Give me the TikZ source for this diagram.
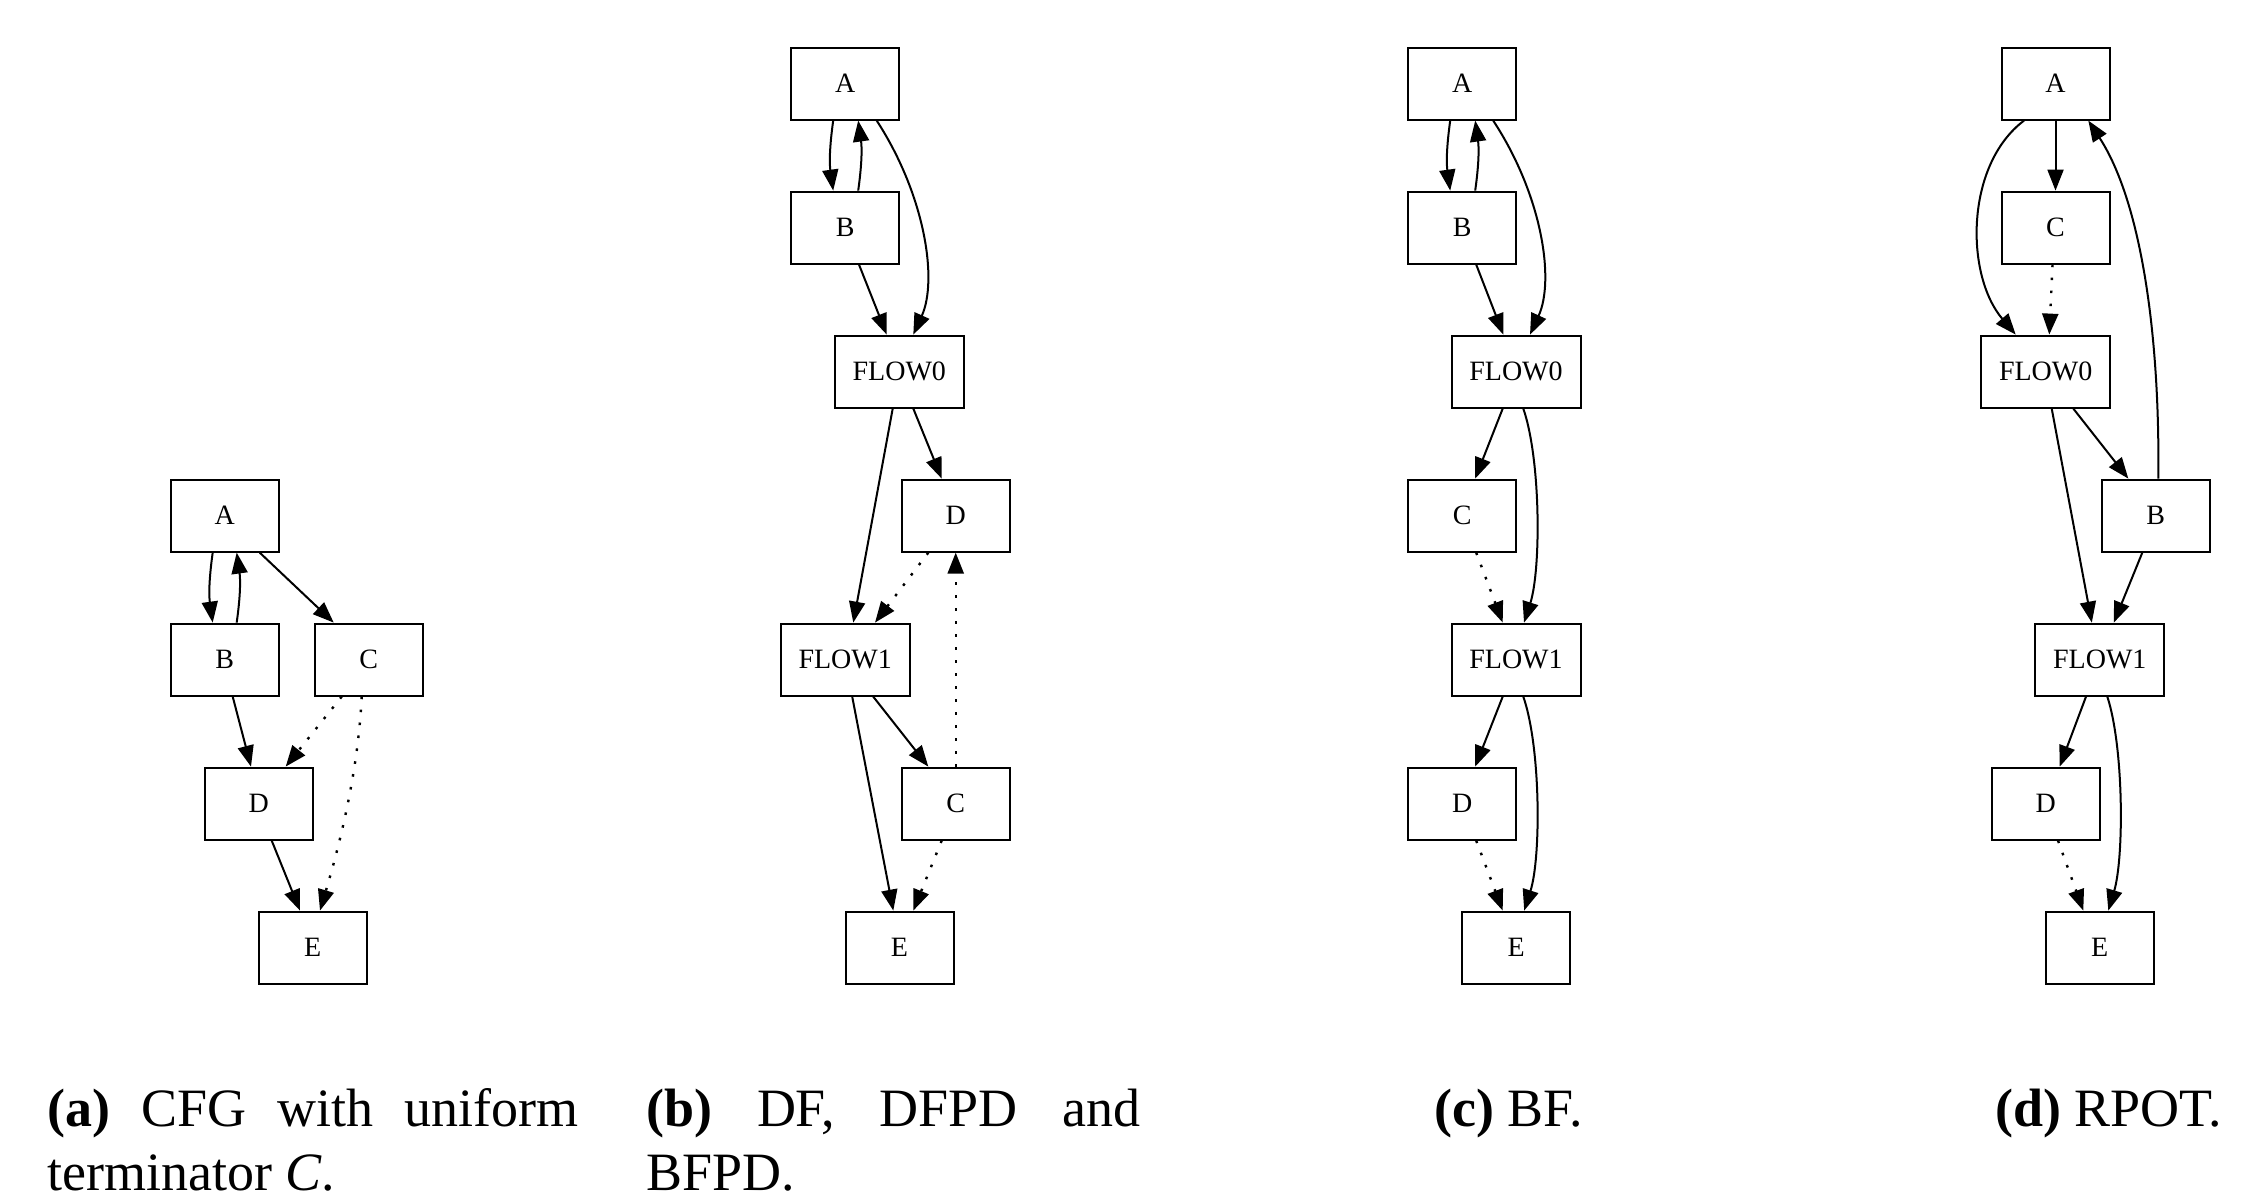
\documentclass[tikz,border=0pt]{standalone}
\usepackage{fontspec}
\setmainfont{Liberation Serif}
\usetikzlibrary{arrows.meta,calc}
\tikzset{
  box/.style={draw, line width=1pt, minimum width=54pt, minimum height=36pt, inner sep=0pt, font=\fontsize{14}{16}\selectfont},
  wbox/.style={box, minimum width=64.5pt},
  edge/.style={line width=1pt, -{Triangle[length=10.5pt,width=8pt]}},
  dedge/.style={edge, line width=1.2pt, dash pattern=on 1.3pt off 5.2pt},
  captext/.style={anchor=base west, inner sep=0pt, text depth=0pt, font=\fontsize{27}{32.5}\selectfont}
}
\begin{document}
\begin{tikzpicture}[x=0.5pt,y=-0.5pt]
\useasboundingbox (0,0) rectangle (2259,1194);
% ---------- panel (a)
\node[box] (aA) at (224.7,515.6) {A};
\node[box] (aB) at (224.7,659.6) {B};
\node[box] (aC) at (368.7,659.6) {C};
\node[box] (aD) at (258.7,803.6) {D};
\node[box] (aE) at (312.7,947.6) {E};
\draw[edge] ($(aA.south)+(-12,0)$) to[bend right=8] ($(aB.north)+(-12,0)$);
\draw[edge] ($(aB.north)+(12,0)$) to[bend right=8] ($(aA.south)+(12,0)$);
\draw[edge] ($(aA.south)+(35,0)$) -- ($(aC.north)+(-35,0)$);
\draw[edge] ($(aB.south)+(8,0)$) -- ($(aD.north)+(-7.7,0)$);
\draw[dedge] ($(aC.south)+(-27,0)$) -- ($(aD.north)+(27,0)$);
\draw[dedge] ($(aC.south)+(-7,0)$) .. controls (358,775) and (338,850) .. ($(aE.north)+(7.3,0)$);
\draw[edge] ($(aD.south)+(13,0)$) -- ($(aE.north)+(-12.7,0)$);
% ---------- panel (b)
\node[box] (bA) at (845.2,83.6) {A};
\node[box] (bB) at (845.2,227.6) {B};
\node[wbox] (bF0) at (899.3,371.6) {FLOW0};
\node[box] (bD) at (955.7,515.6) {D};
\node[wbox] (bF1) at (845.2,659.6) {FLOW1};
\node[box] (bC) at (955.7,803.6) {C};
\node[box] (bE) at (899.5,947.6) {E};
\draw[edge] ($(bA.south)+(-12,0)$) to[bend right=8] ($(bB.north)+(-12,0)$);
\draw[edge] ($(bB.north)+(13,0)$) to[bend right=8] ($(bA.south)+(13,0)$);
\draw[edge] ($(bA.south)+(31.5,0)$) .. controls (925,195) and (938,280) .. ($(bF0.north)+(14,0)$);
\draw[edge] ($(bB.south)+(13.8,0)$) -- ($(bF0.north)+(-12.6,0)$);
\draw[edge] ($(bF0.south)+(14,0)$) -- ($(bD.north)+(-14,0)$);
\draw[edge] ($(bF0.south)+(-6.6,0)$) -- ($(bF1.north)+(8.1,0)$);
\draw[dedge] ($(bD.south)+(-27.4,0)$) -- ($(bF1.north)+(29.8,0)$);
\draw[dedge] (bC.north) -- (bD.south);
\draw[edge] ($(bF1.south)+(28,0)$) -- ($(bC.north)+(-27.4,0)$);
\draw[edge] ($(bF1.south)+(7,0)$) -- ($(bE.north)+(-6.2,0)$);
\draw[dedge] ($(bC.south)+(-14,0)$) -- ($(bE.north)+(13.8,0)$);
% ---------- panel (c)
\node[box] (cA) at (1462.2,83.6) {A};
\node[box] (cB) at (1462.2,227.6) {B};
\node[wbox] (cF0) at (1516,371.6) {FLOW0};
\node[box] (cC) at (1462.2,515.6) {C};
\node[wbox] (cF1) at (1516,659.6) {FLOW1};
\node[box] (cD) at (1462.2,803.6) {D};
\node[box] (cE) at (1516.2,947.6) {E};
\draw[edge] ($(cA.south)+(-12,0)$) to[bend right=8] ($(cB.north)+(-12,0)$);
\draw[edge] ($(cB.north)+(13,0)$) to[bend right=8] ($(cA.south)+(13,0)$);
\draw[edge] ($(cA.south)+(31,0)$) .. controls (1542,195) and (1555,280) .. ($(cF0.north)+(14,0)$);
\draw[edge] ($(cB.south)+(14,0)$) -- ($(cF0.north)+(-12.7,0)$);
\draw[edge] ($(cF0.south)+(-13.3,0)$) -- ($(cC.north)+(13,0)$);
\draw[edge] ($(cF0.south)+(7.3,0)$) .. controls (1541,460) and (1541,570) .. ($(cF1.north)+(8,0)$);
\draw[dedge] ($(cC.south)+(14,0)$) -- ($(cF1.north)+(-13.3,0)$);
\draw[edge] ($(cF1.south)+(-13.3,0)$) -- ($(cD.north)+(13,0)$);
\draw[edge] ($(cF1.south)+(7.3,0)$) .. controls (1541,748) and (1541,858) .. ($(cE.north)+(8,0)$);
\draw[dedge] ($(cD.south)+(14,0)$) -- ($(cE.north)+(-13.5,0)$);
% ---------- panel (d)
\node[box] (dA) at (2055.5,83.6) {A};
\node[box] (dC) at (2055.5,227.6) {C};
\node[wbox] (dF0) at (2045.7,371.6) {FLOW0};
\node[box] (dB) at (2155.7,515.6) {B};
\node[wbox] (dF1) at (2099.8,659.6) {FLOW1};
\node[box] (dD) at (2045.7,803.6) {D};
\node[box] (dE) at (2099.7,947.6) {E};
\draw[edge] (dA.south) -- (dC.north);
\draw[edge] ($(dA.south)+(-31.5,0)$) .. controls (1965,165) and (1965,275) .. ($(dF0.north)+(-30,0)$);
\draw[dedge] ($(dC.south)+(-3,0)$) -- ($(dF0.north)+(3.6,0)$);
\draw[edge] ($(dF0.south)+(27.6,0)$) -- ($(dB.north)+(-27.4,0)$);
\draw[edge] ($(dB.north)+(2.6,0)$) .. controls (2160,330) and (2140,200) .. ($(dA.south)+(32.8,0)$);
\draw[edge] ($(dF0.south)+(6,0)$) -- ($(dF1.north)+(-8,0)$);
\draw[edge] ($(dB.south)+(-13.4,0)$) -- ($(dF1.north)+(14,0)$);
\draw[edge] ($(dF1.south)+(-13.8,0)$) -- ($(dD.north)+(14,0)$);
\draw[edge] ($(dF1.south)+(7.5,0)$) .. controls (2124,748) and (2124,858) .. ($(dE.north)+(8.6,0)$);
\draw[dedge] ($(dD.south)+(12.3,0)$) -- ($(dE.north)+(-16.4,0)$);
% ---------- captions
\node[captext] (capa1) at (47,1126) {\makebox[265.5pt][s]{\textbf{(a)} CFG with uniform}};
\node[captext] (capa2) at (47,1190) {terminator \textit{C}.};
\node[captext] (capb1) at (646,1126) {\makebox[247pt][s]{\textbf{(b)} DF, DFPD and}};
\node[captext] (capb2) at (646,1190) {BFPD.};
\node[captext] (capc) at (1434,1126) {\textbf{(c)} BF.};
\node[captext] (capd) at (1995,1126) {\textbf{(d)} RPOT.};
\end{tikzpicture}
\end{document}
